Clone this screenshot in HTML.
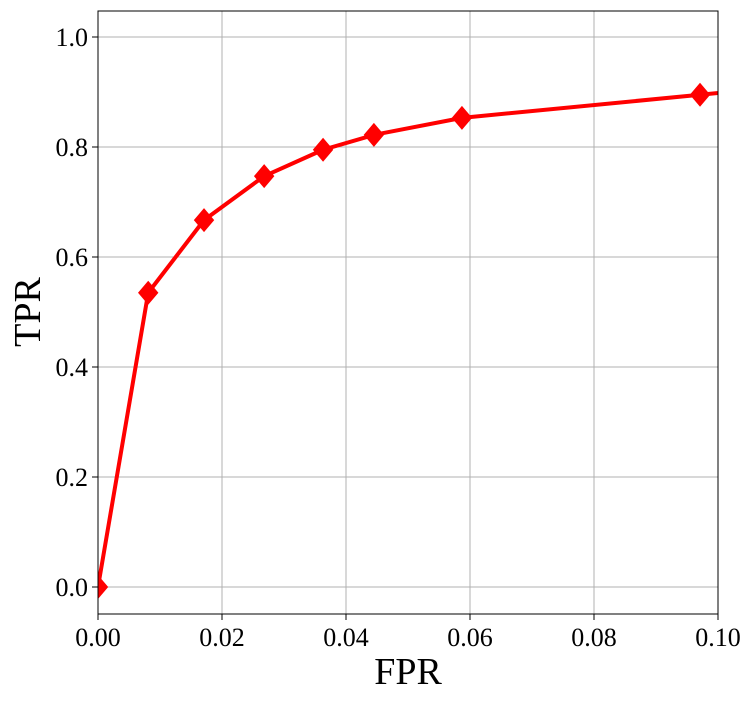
<!DOCTYPE html>
<html><head><meta charset="utf-8"><style>
html,body{margin:0;padding:0;background:#fff;}
svg text{font-family:"Liberation Serif",serif;fill:#000;}
</style></head><body>
<svg id="chart" width="754" height="701" xmlns="http://www.w3.org/2000/svg">
<defs><clipPath id="clip"><rect x="98" y="11" width="620" height="603"/></clipPath></defs>
<g id="grid"></g>
<g id="series" clip-path="url(#clip)"></g>
<rect x="98" y="11" width="620" height="603" fill="none" stroke="#000" stroke-width="1"/>
<g id="ticks"></g>
<text x="408" y="684" font-size="38" text-anchor="middle">FPR</text>
<text transform="translate(40,312) rotate(-90)" font-size="38" text-anchor="middle">TPR</text>
</svg>
<script>
const fpr = [0, 0.0081, 0.0171, 0.0268, 0.0363, 0.0445, 0.0587, 0.0971, 0.12];
const tpr = [0, 0.535, 0.667, 0.747, 0.795, 0.822, 0.853, 0.895, 0.92];
const xTicks = [0, 0.02, 0.04, 0.06, 0.08, 0.10];
const xTickLabels = ["0.00","0.02","0.04","0.06","0.08","0.10"];
const yTicks = [0, 0.2, 0.4, 0.6, 0.8, 1.0];
const yTickLabels = ["0.0","0.2","0.4","0.6","0.8","1.0"];
const NS="http://www.w3.org/2000/svg";
const X=v=>98+v/0.1*620;
const Y=v=>587-v*550;
function mk(tag,attrs,parent){const e=document.createElementNS(NS,tag);for(const k in attrs)e.setAttribute(k,attrs[k]);parent.appendChild(e);return e;}
const grid=document.getElementById('grid'),ticks=document.getElementById('ticks'),series=document.getElementById('series');
xTicks.forEach((t,i)=>{
  const g=mk('line',{x1:X(t),x2:X(t),y1:11,y2:614,stroke:'#b0b0b0','stroke-width':1},grid);
  
  
  const tk=mk('line',{x1:X(t),x2:X(t),y1:614,y2:620,stroke:'#000'},ticks);
  
  
  const tx=mk('text',{x:X(t),y:646,'font-size':26,'text-anchor':'middle'},ticks);
  tx.textContent=xTickLabels[i];
  
  
});
yTicks.forEach((t,i)=>{
  const g=mk('line',{x1:98,x2:718,y1:Y(t),y2:Y(t),stroke:'#b0b0b0','stroke-width':1},grid);
  
  
  const tk=mk('line',{x1:92,x2:98,y1:Y(t),y2:Y(t),stroke:'#000'},ticks);
  
  
  const tx=mk('text',{x:88,y:Y(t)+9,'font-size':26,'text-anchor':'end'},ticks);
  tx.textContent=yTickLabels[i];
  
  
});
const pts=fpr.map((f,i)=>X(f)+','+Y(tpr[i])).join(' ');
const line=mk('polyline',{points:pts,fill:'none',stroke:'#ff0000','stroke-width':4,'stroke-linejoin':'round'},series);


fpr.forEach((f,i)=>{
  const cx=X(f),cy=Y(tpr[i]),r=12;
  const m=mk('polygon',{points:`${cx},${cy-r} ${cx+r*0.85},${cy} ${cx},${cy+r} ${cx-r*0.85},${cy}`,fill:'#ff0000'},series);
  
  
});
</script>
</body></html>
